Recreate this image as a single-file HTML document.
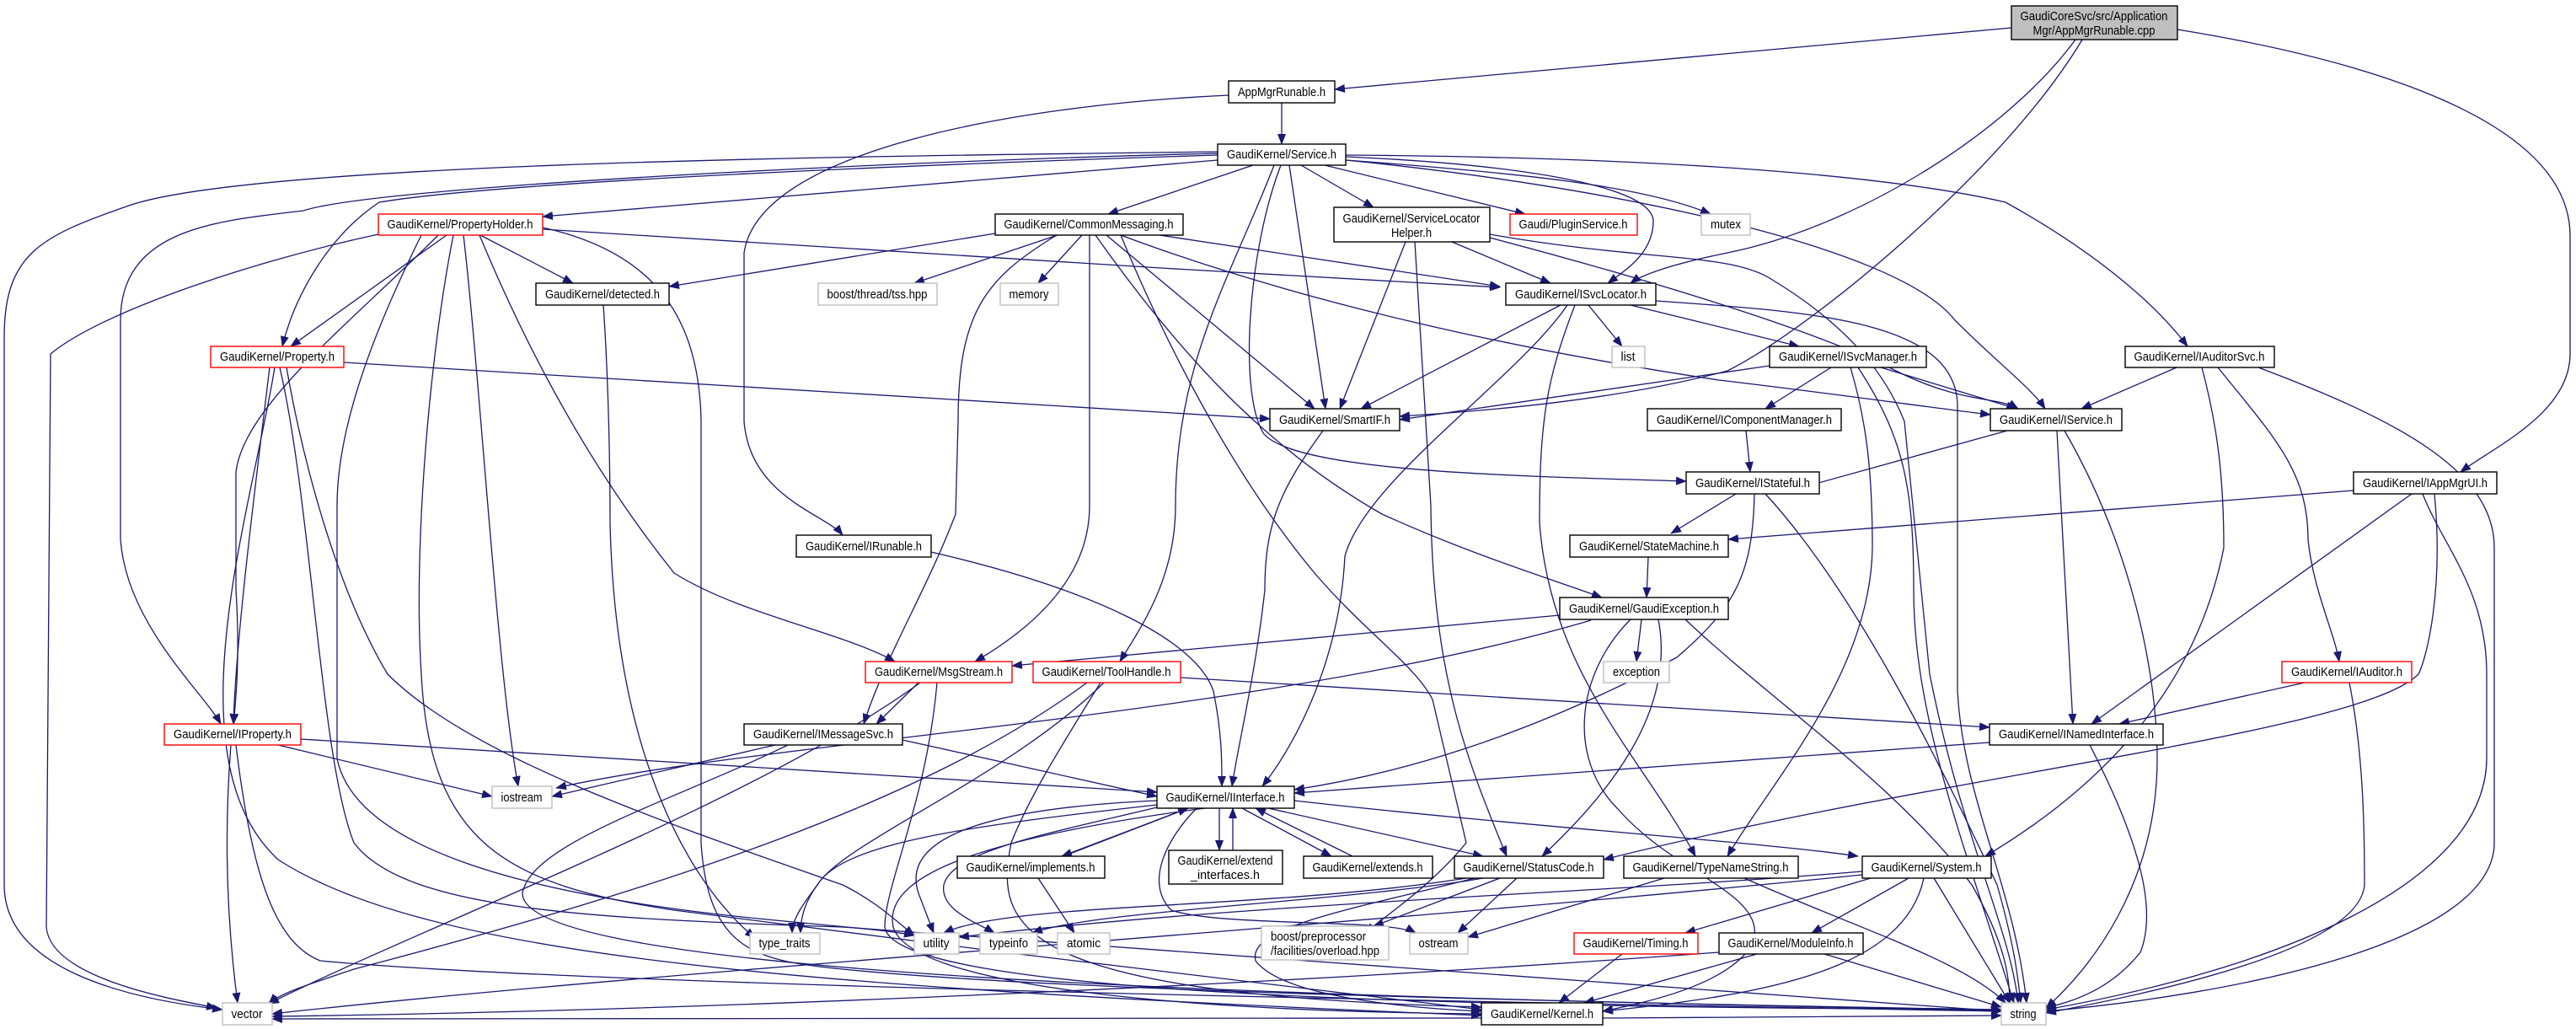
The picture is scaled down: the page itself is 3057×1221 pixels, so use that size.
<!DOCTYPE html>
<html><head><meta charset="utf-8"><style>
html,body{margin:0;padding:0;background:#fff;}
svg{display:block;}
text{font-family:"Liberation Sans Narrow","Liberation Sans",sans-serif;font-size:15px;fill:#000;}
.e{fill:none;stroke:#191970;stroke-width:1.3;}
.n{fill:#fff;stroke:#000;stroke-width:1.4;}
.r{fill:#fff;stroke:#ff0000;stroke-width:1.4;}
.g{fill:#fff;stroke:#bfbfbf;stroke-width:1.4;}
</style></head><body>
<svg width="3057" height="1221" viewBox="0 0 3057 1221" xmlns="http://www.w3.org/2000/svg">
<defs><marker id="a" markerWidth="13" markerHeight="10" refX="12" refY="5" orient="auto" markerUnits="userSpaceOnUse"><path d="M0,0 L13,5 L0,10 z" fill="#191970"/></marker></defs>
<g class="e" marker-end="url(#a)">
<!-- cpp -->
<path d="M2387,33 L1584,106"/>
<path d="M2463,47 C2380,160 2200,270 2050,300 C1990,312 1950,325 1935,336"/>
<path d="M2471,47 C2380,200 2150,390 2050,440 C1900,480 1720,490 1661,494"/>
<path d="M2584,35 C2800,70 3050,140 3050,280 L3050,420 C3050,490 2960,530 2920,560"/>
<!-- AppMgrRunable -->
<path d="M1521,122 L1521,171"/>
<path d="M1458,113 C1200,125 900,180 883,300 L883,500 C890,590 980,610 1000,635"/>
<!-- Service -->
<path d="M1445,180 C1100,185 300,190 150,245 C50,280 5,300 5,400 L5,1050 C5,1150 150,1185 264,1198"/>
<path d="M1445,182 C1100,190 450,220 360,250 C260,262 143,270 143,380 L143,640 C150,740 240,820 262,859"/>
<path d="M1445,184 C1100,195 600,215 450,240 C390,280 350,350 335,411"/>
<path d="M1445,190 L644,257"/>
<path d="M1487,196 L1315,254"/>
<path d="M1544,196 L1630,246"/>
<path d="M1572,196 L1810,254"/>
<path d="M1597,190 C1800,205 1950,220 2030,254"/>
<path d="M1597,186 C1800,195 1960,220 1962,262 C1962,300 1930,320 1908,336"/>
<path d="M1597,190 C1900,220 2250,290 2320,380 C2370,430 2410,460 2427,485"/>
<path d="M1597,184 C2000,187 2250,210 2380,240 C2470,290 2550,350 2596,411"/>
<path d="M1530,196 L1573,485"/>
<path d="M1512,196 C1460,330 1395,430 1395,600 C1395,690 1350,750 1329,785"/>
<path d="M1520,196 C1480,300 1470,470 1500,515 C1540,560 1800,565 2001,571"/>
<!-- ServiceLocatorHelper -->
<path d="M1679,287 L1698,600 C1700,800 1740,900 1788,1016"/>
<path d="M1668,287 L1590,485"/>
<path d="M1723,287 L1840,336"/>
<path d="M1768,282 C1950,330 2150,390 2250,440 C2330,480 2370,470 2395,485"/>
<path d="M1768,278 C1950,310 2050,300 2100,330 C2200,390 2240,450 2260,500 L2290,800 C2330,1000 2385,1100 2395,1190"/>
<!-- CommonMessaging -->
<path d="M1181,277 L794,340"/>
<path d="M1255,279 L1085,336"/>
<path d="M1284,279 L1232,336"/>
<path d="M1376,279 L1780,340"/>
<path d="M1313,279 L1560,485"/>
<path d="M1293,279 L1293,600 C1293,700 1200,760 1157,785"/>
<path d="M1254,279 C1170,330 1137,370 1137,500 L1134,610 C1100,700 1050,780 1025,859"/>
<path d="M1300,279 C1400,420 1500,530 1640,610 C1750,660 1850,690 1901,709"/>
<path d="M1330,279 C1600,380 1900,430 2040,451 C2200,470 2300,485 2362,492"/>
<path d="M1330,279 C1380,400 1460,560 1560,680 C1620,750 1680,790 1700,830 L1740,1000 C1700,1050 1640,1090 1620,1107"/>
<!-- PropertyHolder -->
<path d="M530,279 L345,411"/>
<path d="M570,279 L680,336"/>
<path d="M644,272 C900,290 1400,320 1780,341"/>
<path d="M481,279 C350,320 250,380 190,560 C160,650 150,700 160,760 C190,850 240,850 262,859" style="display:none"/>
<path d="M520,279 C420,380 290,480 280,560 L280,700 C285,780 280,830 277,859"/>
<path d="M550,279 C570,450 590,800 615,933"/>
<path d="M449,278 C300,310 120,370 60,420 L55,1100 C60,1160 200,1185 257,1196"/>
<path d="M569,279 C640,450 720,580 800,680 C880,730 1000,750 1062,785"/>
<path d="M644,270 C780,300 830,380 832,500 L832,1000 C840,1130 900,1140 1000,1150 C1300,1180 2000,1190 2375,1200"/>
<path d="M538,279 C510,420 490,650 500,800 C510,1000 600,1050 800,1080 C1100,1120 1600,1180 1758,1198"/>
<path d="M500,279 C450,380 400,500 400,600 L400,900 C420,1000 600,1060 900,1090 C1000,1100 1050,1103 1085,1110"/>
<!-- Property.h -->
<path d="M330,436 L290,859" style="display:none"/>
<path d="M320,436 C300,600 280,760 277,859"/>
<path d="M408,430 L1507,497"/>
<path d="M340,436 C360,550 400,700 460,800 C560,900 800,980 1000,1050 C1040,1070 1060,1090 1085,1110"/>
<path d="M332,436 C370,600 380,900 420,1000 C480,1080 700,1090 1000,1100 C1600,1140 2100,1180 2375,1200"/>
<path d="M326,436 C300,600 200,900 330,1020 C500,1130 900,1170 1758,1205"/>
<!-- ISvcLocator -->
<path d="M1852,362 L1615,485"/>
<path d="M1885,362 L1925,411"/>
<path d="M1935,362 L2135,411"/>
<path d="M1860,362 C1800,450 1620,570 1596,660 C1590,780 1540,880 1498,933"/>
<path d="M1869,362 C1835,450 1827,500 1827,620 C1840,800 1950,900 2012,1016"/>
<path d="M1965,357 C2150,370 2320,380 2323,480 L2323,820 C2330,950 2390,1050 2405,1190"/>
<!-- ISvcManager -->
<path d="M2100,434 L1661,498"/>
<path d="M2173,436 L2095,485"/>
<path d="M2232,436 L2393,485"/>
<path d="M2196,436 C2215,500 2222,560 2222,650 C2220,800 2100,930 2050,1016"/>
<path d="M2205,436 C2260,520 2271,580 2271,700 C2271,850 2330,1000 2390,1190"/>
<!-- others -->
<path d="M2072,511 L2077,560"/>
<path d="M2382,511 L2140,578"/>
<path d="M2441,511 L2460,859"/>
<path d="M2450,511 C2530,650 2560,800 2560,900 C2560,1050 2480,1150 2428,1196"/>
<path d="M2583,436 L2470,485"/>
<path d="M2613,436 C2630,500 2639,560 2639,650 C2600,850 2450,960 2356,1016"/>
<path d="M2632,436 C2700,520 2739,560 2739,640 C2745,700 2770,750 2776,785"/>
<path d="M2680,436 C2850,500 2960,560 2960,650 L2960,1000 C2960,1120 2650,1180 2428,1200"/>
<path d="M2793,582 L2051,640"/>
<path d="M2862,586 L2482,859"/>
<path d="M2889,586 C2900,700 2880,780 2870,800 C2800,870 2300,920 1903,1020"/>
<path d="M2875,586 C2900,650 2951,700 2951,800 L2951,900 C2950,1050 2700,1150 2428,1198"/>
<path d="M2735,810 L2515,859"/>
<path d="M2788,810 C2806,900 2806,1000 2806,1050 C2800,1120 2600,1170 2428,1202"/>
<path d="M2361,881 L1536,941"/>
<path d="M2480,884 C2540,1000 2560,1080 2540,1130 C2500,1180 2450,1190 2428,1196"/>
<path d="M1956,661 L1954,709"/>
<path d="M2060,586 L1983,633"/>
<path d="M2082,586 C2080,680 2060,720 1990,780 C1800,880 1650,920 1536,937"/>
<path d="M2095,586 C2200,700 2300,900 2370,1050 C2390,1120 2395,1160 2398,1190"/>
<path d="M1851,730 L1201,790"/>
<path d="M1948,735 L1942,785"/>
<path d="M1888,736 C1500,850 900,880 660,935"/>
<path d="M1968,735 C1990,850 1900,950 1830,1016"/>
<path d="M1935,735 C1870,800 1860,900 1920,960 C1990,1040 2100,1060 2080,1120 C2050,1170 1950,1190 1902,1200"/>
<path d="M2000,735 C2100,830 2250,930 2340,1050 C2380,1120 2385,1160 2385,1190"/>
<path d="M1090,810 L1040,859"/>
<path d="M1092,810 C900,950 500,1100 319,1191"/>
<path d="M1112,810 C1100,950 1050,1050 1050,1100 C1060,1180 1700,1195 2375,1198"/>
<path d="M1401,804 L2361,863"/>
<path d="M1290,810 C1100,950 800,1050 420,1150 C360,1170 330,1180 319,1191"/>
<path d="M1310,810 C1200,920 1000,1000 970,1050 C955,1070 950,1090 950,1107"/>
<path d="M1306,810 C1250,900 1220,950 1200,1000 C1180,1100 1200,1180 1758,1195"/>
<path d="M920,884 L655,945"/>
<path d="M1071,878 L1373,945"/>
<path d="M935,884 C800,950 630,1000 620,1060 C620,1140 1200,1180 2375,1198"/>
<path d="M330,884 L584,945"/>
<path d="M357,877 L1373,940"/>
<path d="M274,884 C265,1000 270,1100 282,1190"/>
<path d="M280,884 C300,1050 330,1120 380,1140 C700,1170 1800,1190 2375,1200"/>
<path d="M716,362 C722,450 724,550 724,620 C730,900 820,1050 896,1113"/>
<path d="M1105,655 C1300,700 1420,760 1440,820 C1450,870 1450,900 1450,933"/>
<path d="M1570,511 C1520,580 1501,620 1501,700 C1490,800 1470,880 1462,933"/>
<!-- IInterface -->
<path d="M1410,959 L1260,1016"/>
<path d="M1262,1016 L1410,959"/>
<path d="M1447,959 L1447,1009"/>
<path d="M1463,1009 L1463,959"/>
<path d="M1474,959 L1580,1016"/>
<path d="M1605,1016 L1490,959"/>
<path d="M1505,959 L1760,1016"/>
<path d="M1536,950 C1800,980 2100,1000 2205,1016"/>
<path d="M1373,955 C1150,980 1000,1000 970,1050 C955,1070 940,1090 940,1107"/>
<path d="M1373,958 C1240,990 1130,1010 1120,1050 C1115,1080 1160,1095 1180,1107"/>
<path d="M1420,959 C1380,1000 1360,1050 1390,1080 C1450,1100 1650,1090 1680,1107"/>
<path d="M1430,959 C1120,1000 1050,1050 1060,1100 C1080,1170 1400,1200 1758,1203"/>
<path d="M1373,950 C1150,960 1070,1000 1090,1060 L1108,1107"/>
<path d="M1232,1042 L1275,1107"/>
<!-- StatusCode -->
<path d="M1780,1042 L1630,1099"/>
<path d="M1800,1042 L1730,1107"/>
<path d="M1740,1042 C1500,1080 1200,1070 1120,1107"/>
<path d="M1760,1042 C1600,1070 1300,1080 1225,1107"/>
<path d="M1750,1042 C1600,1080 1480,1100 1490,1140 C1520,1180 1650,1195 1758,1200"/>
<path d="M1975,1042 L1742,1112"/>
<path d="M2070,1042 C2200,1100 2330,1140 2380,1190"/>
<!-- System -->
<path d="M2220,1042 L2000,1107"/>
<path d="M2265,1042 L2150,1107"/>
<path d="M2295,1042 L2385,1190"/>
<path d="M2283,1042 C2260,1150 2100,1180 1902,1200"/>
<path d="M2210,1038 C1600,1100 800,1150 323,1203"/>
<path d="M2210,1034 C1900,1060 1500,1070 1138,1112"/>
<path d="M1925,1132 L1850,1190"/>
<path d="M2085,1132 L1880,1190"/>
<path d="M2165,1132 L2375,1195"/>
<path d="M2040,1130 C1500,1170 800,1200 323,1206"/>
<path d="M1758,1208 C1200,1212 700,1210 323,1209"/>
<path d="M1902,1208 C2100,1208 2300,1206 2375,1205"/>
</g>
<!-- nodes -->
<g>
<rect class="n" x="2387" y="7" width="197" height="40" style="fill:#bfbfbf"/>
<text x="2485" y="24" text-anchor="middle" textLength="175" lengthAdjust="spacingAndGlyphs">GaudiCoreSvc/src/Application</text>
<text x="2485" y="41" text-anchor="middle" textLength="145" lengthAdjust="spacingAndGlyphs">Mgr/AppMgrRunable.cpp</text>

<rect class="n" x="1458" y="96" width="126" height="26"/><text x="1521" y="114" text-anchor="middle" textLength="104" lengthAdjust="spacingAndGlyphs">AppMgrRunable.h</text>
<rect class="n" x="1445" y="171" width="152" height="25"/><text x="1521" y="188" text-anchor="middle" textLength="130" lengthAdjust="spacingAndGlyphs">GaudiKernel/Service.h</text>
<rect class="r" x="449" y="254" width="195" height="25"/><text x="546" y="271" text-anchor="middle" textLength="173" lengthAdjust="spacingAndGlyphs">GaudiKernel/PropertyHolder.h</text>
<rect class="n" x="1181" y="254" width="223" height="25"/><text x="1292" y="271" text-anchor="middle" textLength="201" lengthAdjust="spacingAndGlyphs">GaudiKernel/CommonMessaging.h</text>
<rect class="n" x="1583" y="246" width="185" height="41"/><text x="1675" y="264" text-anchor="middle" textLength="163" lengthAdjust="spacingAndGlyphs">GaudiKernel/ServiceLocator</text><text x="1675" y="281" text-anchor="middle" textLength="48" lengthAdjust="spacingAndGlyphs">Helper.h</text>
<rect class="r" x="1792" y="254" width="151" height="25"/><text x="1867" y="271" text-anchor="middle" textLength="129" lengthAdjust="spacingAndGlyphs">Gaudi/PluginService.h</text>
<rect class="g" x="2019" y="254" width="58" height="25"/><text x="2048" y="271" text-anchor="middle" textLength="36" lengthAdjust="spacingAndGlyphs">mutex</text>
<rect class="n" x="636" y="336" width="158" height="26"/><text x="715" y="354" text-anchor="middle" textLength="136" lengthAdjust="spacingAndGlyphs">GaudiKernel/detected.h</text>
<rect class="g" x="971" y="336" width="141" height="26"/><text x="1041" y="354" text-anchor="middle" textLength="119" lengthAdjust="spacingAndGlyphs">boost/thread/tss.hpp</text>
<rect class="g" x="1187" y="336" width="69" height="26"/><text x="1221" y="354" text-anchor="middle" textLength="47" lengthAdjust="spacingAndGlyphs">memory</text>
<rect class="n" x="1787" y="336" width="178" height="26"/><text x="1876" y="354" text-anchor="middle" textLength="156" lengthAdjust="spacingAndGlyphs">GaudiKernel/ISvcLocator.h</text>
<rect class="r" x="250" y="411" width="158" height="25"/><text x="329" y="428" text-anchor="middle" textLength="136" lengthAdjust="spacingAndGlyphs">GaudiKernel/Property.h</text>
<rect class="g" x="1913" y="411" width="39" height="25"/><text x="1932" y="428" text-anchor="middle" textLength="17" lengthAdjust="spacingAndGlyphs">list</text>
<rect class="n" x="2100" y="411" width="186" height="25"/><text x="2193" y="428" text-anchor="middle" textLength="164" lengthAdjust="spacingAndGlyphs">GaudiKernel/ISvcManager.h</text>
<rect class="n" x="2522" y="411" width="177" height="25"/><text x="2610" y="428" text-anchor="middle" textLength="155" lengthAdjust="spacingAndGlyphs">GaudiKernel/IAuditorSvc.h</text>
<rect class="n" x="1507" y="485" width="154" height="26"/><text x="1584" y="503" text-anchor="middle" textLength="132" lengthAdjust="spacingAndGlyphs">GaudiKernel/SmartIF.h</text>
<rect class="n" x="1955" y="485" width="230" height="26"/><text x="2070" y="503" text-anchor="middle" textLength="208" lengthAdjust="spacingAndGlyphs">GaudiKernel/IComponentManager.h</text>
<rect class="n" x="2362" y="485" width="156" height="26"/><text x="2440" y="503" text-anchor="middle" textLength="134" lengthAdjust="spacingAndGlyphs">GaudiKernel/IService.h</text>
<rect class="n" x="2001" y="560" width="158" height="26"/><text x="2080" y="578" text-anchor="middle" textLength="136" lengthAdjust="spacingAndGlyphs">GaudiKernel/IStateful.h</text>
<rect class="n" x="2793" y="560" width="170" height="26"/><text x="2878" y="578" text-anchor="middle" textLength="148" lengthAdjust="spacingAndGlyphs">GaudiKernel/IAppMgrUI.h</text>
<rect class="n" x="945" y="635" width="160" height="26"/><text x="1025" y="653" text-anchor="middle" textLength="138" lengthAdjust="spacingAndGlyphs">GaudiKernel/IRunable.h</text>
<rect class="n" x="1863" y="635" width="188" height="26"/><text x="1957" y="653" text-anchor="middle" textLength="166" lengthAdjust="spacingAndGlyphs">GaudiKernel/StateMachine.h</text>
<rect class="n" x="1851" y="709" width="200" height="26"/><text x="1951" y="727" text-anchor="middle" textLength="178" lengthAdjust="spacingAndGlyphs">GaudiKernel/GaudiException.h</text>
<rect class="r" x="1027" y="785" width="174" height="25"/><text x="1114" y="802" text-anchor="middle" textLength="152" lengthAdjust="spacingAndGlyphs">GaudiKernel/MsgStream.h</text>
<rect class="r" x="1226" y="785" width="175" height="25"/><text x="1313" y="802" text-anchor="middle" textLength="153" lengthAdjust="spacingAndGlyphs">GaudiKernel/ToolHandle.h</text>
<rect class="g" x="1903" y="785" width="78" height="25"/><text x="1942" y="802" text-anchor="middle" textLength="56" lengthAdjust="spacingAndGlyphs">exception</text>
<rect class="r" x="2708" y="785" width="154" height="25"/><text x="2785" y="802" text-anchor="middle" textLength="132" lengthAdjust="spacingAndGlyphs">GaudiKernel/IAuditor.h</text>
<rect class="r" x="195" y="859" width="162" height="25"/><text x="276" y="876" text-anchor="middle" textLength="140" lengthAdjust="spacingAndGlyphs">GaudiKernel/IProperty.h</text>
<rect class="n" x="883" y="859" width="188" height="25"/><text x="977" y="876" text-anchor="middle" textLength="166" lengthAdjust="spacingAndGlyphs">GaudiKernel/IMessageSvc.h</text>
<rect class="n" x="2361" y="859" width="206" height="25"/><text x="2464" y="876" text-anchor="middle" textLength="184" lengthAdjust="spacingAndGlyphs">GaudiKernel/INamedInterface.h</text>
<rect class="g" x="584" y="933" width="71" height="26"/><text x="619" y="951" text-anchor="middle" textLength="49" lengthAdjust="spacingAndGlyphs">iostream</text>
<rect class="n" x="1373" y="933" width="163" height="26"/><text x="1454" y="951" text-anchor="middle" textLength="141" lengthAdjust="spacingAndGlyphs">GaudiKernel/IInterface.h</text>
<rect class="n" x="1136" y="1016" width="175" height="26"/><text x="1223" y="1034" text-anchor="middle" textLength="153" lengthAdjust="spacingAndGlyphs">GaudiKernel/implements.h</text>
<rect class="n" x="1387" y="1009" width="135" height="40"/><text x="1454" y="1026" text-anchor="middle" textLength="113" lengthAdjust="spacingAndGlyphs">GaudiKernel/extend</text><text x="1454" y="1043" text-anchor="middle" textLength="82" lengthAdjust="spacingAndGlyphs">_interfaces.h</text>
<rect class="n" x="1547" y="1016" width="153" height="26"/><text x="1623" y="1034" text-anchor="middle" textLength="131" lengthAdjust="spacingAndGlyphs">GaudiKernel/extends.h</text>
<rect class="n" x="1726" y="1016" width="177" height="26"/><text x="1814" y="1034" text-anchor="middle" textLength="155" lengthAdjust="spacingAndGlyphs">GaudiKernel/StatusCode.h</text>
<rect class="n" x="1927" y="1016" width="207" height="26"/><text x="2030" y="1034" text-anchor="middle" textLength="185" lengthAdjust="spacingAndGlyphs">GaudiKernel/TypeNameString.h</text>
<rect class="n" x="2210" y="1016" width="153" height="26"/><text x="2286" y="1034" text-anchor="middle" textLength="131" lengthAdjust="spacingAndGlyphs">GaudiKernel/System.h</text>
<rect class="g" x="890" y="1107" width="83" height="25"/><text x="931" y="1124" text-anchor="middle" textLength="61" lengthAdjust="spacingAndGlyphs">type_traits</text>
<rect class="g" x="1085" y="1107" width="53" height="25"/><text x="1111" y="1124" text-anchor="middle" textLength="31" lengthAdjust="spacingAndGlyphs">utility</text>
<rect class="g" x="1163" y="1107" width="68" height="25"/><text x="1197" y="1124" text-anchor="middle" textLength="46" lengthAdjust="spacingAndGlyphs">typeinfo</text>
<rect class="g" x="1255" y="1107" width="62" height="25"/><text x="1286" y="1124" text-anchor="middle" textLength="40" lengthAdjust="spacingAndGlyphs">atomic</text>
<rect class="g" x="1497" y="1099" width="151" height="40"/><text x="1508" y="1116" textLength="113" lengthAdjust="spacingAndGlyphs">boost/preprocessor</text><text x="1508" y="1133" textLength="129" lengthAdjust="spacingAndGlyphs">/facilities/overload.hpp</text>
<rect class="g" x="1673" y="1107" width="69" height="25"/><text x="1707" y="1124" text-anchor="middle" textLength="47" lengthAdjust="spacingAndGlyphs">ostream</text>
<rect class="r" x="1868" y="1107" width="147" height="25"/><text x="1941" y="1124" text-anchor="middle" textLength="125" lengthAdjust="spacingAndGlyphs">GaudiKernel/Timing.h</text>
<rect class="n" x="2040" y="1107" width="171" height="25"/><text x="2125" y="1124" text-anchor="middle" textLength="149" lengthAdjust="spacingAndGlyphs">GaudiKernel/ModuleInfo.h</text>
<rect class="g" x="264" y="1190" width="59" height="26"/><text x="293" y="1208" text-anchor="middle" textLength="37" lengthAdjust="spacingAndGlyphs">vector</text>
<rect class="n" x="1758" y="1190" width="144" height="26"/><text x="1830" y="1208" text-anchor="middle" textLength="122" lengthAdjust="spacingAndGlyphs">GaudiKernel/Kernel.h</text>
<rect class="g" x="2375" y="1190" width="53" height="26"/><text x="2401" y="1208" text-anchor="middle" textLength="31" lengthAdjust="spacingAndGlyphs">string</text>
</g>
</svg>
</body></html>
